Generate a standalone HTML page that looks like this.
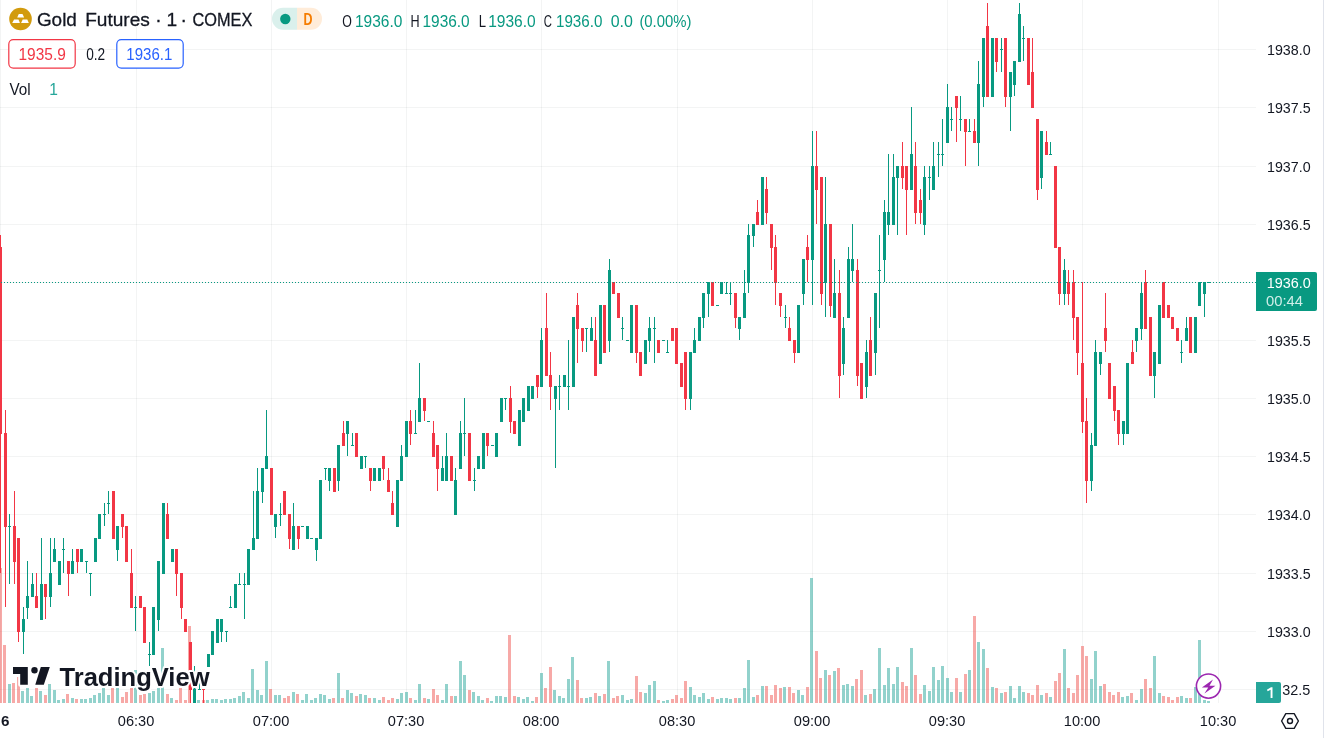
<!DOCTYPE html>
<html><head><meta charset="utf-8"><title>Gold Futures</title>
<style>html,body{margin:0;padding:0;background:#fff;}body{width:1324px;height:738px;overflow:hidden;position:relative;font-family:"Liberation Sans", sans-serif;}</style>
</head><body>
<svg width="1324" height="738" viewBox="0 0 1324 738" style="position:absolute;left:0;top:0;display:block;will-change:transform">
<rect x="0" y="0" width="1324" height="738" fill="#ffffff"/>
<g shape-rendering="crispEdges" fill="#2a2e39" fill-opacity="0.055">
<rect x="0" y="689" width="1256" height="1"/>
<rect x="0" y="631" width="1256" height="1"/>
<rect x="0" y="573" width="1256" height="1"/>
<rect x="0" y="514" width="1256" height="1"/>
<rect x="0" y="456" width="1256" height="1"/>
<rect x="0" y="398" width="1256" height="1"/>
<rect x="0" y="340" width="1256" height="1"/>
<rect x="0" y="282" width="1256" height="1"/>
<rect x="0" y="224" width="1256" height="1"/>
<rect x="0" y="166" width="1256" height="1"/>
<rect x="0" y="107" width="1256" height="1"/>
<rect x="0" y="49" width="1256" height="1"/>
<rect x="0" y="0" width="1" height="703"/>
<rect x="136" y="0" width="1" height="703"/>
<rect x="271" y="0" width="1" height="703"/>
<rect x="406" y="0" width="1" height="703"/>
<rect x="541" y="0" width="1" height="703"/>
<rect x="677" y="0" width="1" height="703"/>
<rect x="812" y="0" width="1" height="703"/>
<rect x="947" y="0" width="1" height="703"/>
<rect x="1082" y="0" width="1" height="703"/>
<rect x="1218" y="0" width="1" height="703"/>
</g>
<g shape-rendering="crispEdges">
<rect x="-1" y="568" width="3" height="135" fill="rgba(239,83,80,0.5)"/>
<rect x="3" y="645" width="3" height="58" fill="rgba(239,83,80,0.5)"/>
<rect x="8" y="684" width="3" height="19" fill="rgba(38,166,154,0.5)"/>
<rect x="12" y="683" width="3" height="20" fill="rgba(239,83,80,0.5)"/>
<rect x="17" y="677" width="3" height="26" fill="rgba(239,83,80,0.5)"/>
<rect x="21" y="691" width="3" height="12" fill="rgba(38,166,154,0.5)"/>
<rect x="26" y="688" width="3" height="15" fill="rgba(38,166,154,0.5)"/>
<rect x="30" y="696" width="3" height="7" fill="rgba(38,166,154,0.5)"/>
<rect x="35" y="688" width="3" height="15" fill="rgba(239,83,80,0.5)"/>
<rect x="39" y="691" width="3" height="12" fill="rgba(38,166,154,0.5)"/>
<rect x="44" y="695" width="3" height="8" fill="rgba(239,83,80,0.5)"/>
<rect x="48" y="684" width="3" height="19" fill="rgba(38,166,154,0.5)"/>
<rect x="53" y="690" width="3" height="13" fill="rgba(38,166,154,0.5)"/>
<rect x="57" y="700" width="3" height="3" fill="rgba(38,166,154,0.5)"/>
<rect x="62" y="699" width="3" height="4" fill="rgba(38,166,154,0.5)"/>
<rect x="66" y="694" width="3" height="9" fill="rgba(239,83,80,0.5)"/>
<rect x="71" y="698" width="3" height="5" fill="rgba(38,166,154,0.5)"/>
<rect x="75" y="699" width="3" height="4" fill="rgba(239,83,80,0.5)"/>
<rect x="80" y="699" width="3" height="4" fill="rgba(38,166,154,0.5)"/>
<rect x="84" y="699" width="3" height="4" fill="rgba(38,166,154,0.5)"/>
<rect x="89" y="698" width="3" height="5" fill="rgba(38,166,154,0.5)"/>
<rect x="93" y="695" width="3" height="8" fill="rgba(38,166,154,0.5)"/>
<rect x="98" y="693" width="3" height="10" fill="rgba(38,166,154,0.5)"/>
<rect x="102" y="688" width="3" height="15" fill="rgba(38,166,154,0.5)"/>
<rect x="107" y="695" width="3" height="8" fill="rgba(38,166,154,0.5)"/>
<rect x="111" y="688" width="3" height="15" fill="rgba(239,83,80,0.5)"/>
<rect x="116" y="688" width="3" height="15" fill="rgba(38,166,154,0.5)"/>
<rect x="121" y="697" width="3" height="6" fill="rgba(239,83,80,0.5)"/>
<rect x="125" y="692" width="3" height="11" fill="rgba(239,83,80,0.5)"/>
<rect x="130" y="688" width="3" height="15" fill="rgba(239,83,80,0.5)"/>
<rect x="134" y="670" width="3" height="33" fill="rgba(38,166,154,0.5)"/>
<rect x="139" y="695" width="3" height="8" fill="rgba(239,83,80,0.5)"/>
<rect x="143" y="694" width="3" height="9" fill="rgba(239,83,80,0.5)"/>
<rect x="148" y="693" width="3" height="10" fill="rgba(38,166,154,0.5)"/>
<rect x="152" y="691" width="3" height="12" fill="rgba(38,166,154,0.5)"/>
<rect x="157" y="688" width="3" height="15" fill="rgba(38,166,154,0.5)"/>
<rect x="161" y="648" width="3" height="55" fill="rgba(38,166,154,0.5)"/>
<rect x="166" y="694" width="3" height="9" fill="rgba(239,83,80,0.5)"/>
<rect x="170" y="698" width="3" height="5" fill="rgba(38,166,154,0.5)"/>
<rect x="175" y="700" width="3" height="3" fill="rgba(239,83,80,0.5)"/>
<rect x="179" y="688" width="3" height="15" fill="rgba(239,83,80,0.5)"/>
<rect x="184" y="700" width="3" height="3" fill="rgba(239,83,80,0.5)"/>
<rect x="188" y="626" width="3" height="77" fill="rgba(239,83,80,0.5)"/>
<rect x="193" y="673" width="3" height="30" fill="rgba(38,166,154,0.5)"/>
<rect x="197" y="700" width="3" height="3" fill="rgba(38,166,154,0.5)"/>
<rect x="202" y="700" width="3" height="3" fill="rgba(239,83,80,0.5)"/>
<rect x="206" y="700" width="3" height="3" fill="rgba(38,166,154,0.5)"/>
<rect x="211" y="699" width="3" height="4" fill="rgba(38,166,154,0.5)"/>
<rect x="215" y="699" width="3" height="4" fill="rgba(38,166,154,0.5)"/>
<rect x="220" y="700" width="3" height="3" fill="rgba(38,166,154,0.5)"/>
<rect x="224" y="699" width="3" height="4" fill="rgba(38,166,154,0.5)"/>
<rect x="229" y="699" width="3" height="4" fill="rgba(38,166,154,0.5)"/>
<rect x="233" y="698" width="3" height="5" fill="rgba(38,166,154,0.5)"/>
<rect x="238" y="696" width="3" height="7" fill="rgba(38,166,154,0.5)"/>
<rect x="242" y="692" width="3" height="11" fill="rgba(38,166,154,0.5)"/>
<rect x="247" y="698" width="3" height="5" fill="rgba(38,166,154,0.5)"/>
<rect x="251" y="669" width="3" height="34" fill="rgba(38,166,154,0.5)"/>
<rect x="256" y="690" width="3" height="13" fill="rgba(38,166,154,0.5)"/>
<rect x="260" y="695" width="3" height="8" fill="rgba(38,166,154,0.5)"/>
<rect x="265" y="661" width="3" height="42" fill="rgba(38,166,154,0.5)"/>
<rect x="269" y="689" width="3" height="14" fill="rgba(239,83,80,0.5)"/>
<rect x="274" y="695" width="3" height="8" fill="rgba(38,166,154,0.5)"/>
<rect x="278" y="695" width="3" height="8" fill="rgba(38,166,154,0.5)"/>
<rect x="283" y="698" width="3" height="5" fill="rgba(239,83,80,0.5)"/>
<rect x="287" y="696" width="3" height="7" fill="rgba(239,83,80,0.5)"/>
<rect x="292" y="692" width="3" height="11" fill="rgba(38,166,154,0.5)"/>
<rect x="296" y="694" width="3" height="9" fill="rgba(239,83,80,0.5)"/>
<rect x="301" y="700" width="3" height="3" fill="rgba(38,166,154,0.5)"/>
<rect x="305" y="694" width="3" height="9" fill="rgba(38,166,154,0.5)"/>
<rect x="310" y="700" width="3" height="3" fill="rgba(38,166,154,0.5)"/>
<rect x="314" y="698" width="3" height="5" fill="rgba(38,166,154,0.5)"/>
<rect x="319" y="694" width="3" height="9" fill="rgba(38,166,154,0.5)"/>
<rect x="323" y="695" width="3" height="8" fill="rgba(38,166,154,0.5)"/>
<rect x="328" y="699" width="3" height="4" fill="rgba(38,166,154,0.5)"/>
<rect x="332" y="698" width="3" height="5" fill="rgba(239,83,80,0.5)"/>
<rect x="337" y="673" width="3" height="30" fill="rgba(38,166,154,0.5)"/>
<rect x="341" y="698" width="3" height="5" fill="rgba(239,83,80,0.5)"/>
<rect x="346" y="690" width="3" height="13" fill="rgba(38,166,154,0.5)"/>
<rect x="350" y="693" width="3" height="10" fill="rgba(38,166,154,0.5)"/>
<rect x="355" y="696" width="3" height="7" fill="rgba(239,83,80,0.5)"/>
<rect x="359" y="694" width="3" height="9" fill="rgba(38,166,154,0.5)"/>
<rect x="364" y="695" width="3" height="8" fill="rgba(38,166,154,0.5)"/>
<rect x="368" y="698" width="3" height="5" fill="rgba(239,83,80,0.5)"/>
<rect x="373" y="698" width="3" height="5" fill="rgba(38,166,154,0.5)"/>
<rect x="378" y="700" width="3" height="3" fill="rgba(38,166,154,0.5)"/>
<rect x="382" y="697" width="3" height="6" fill="rgba(239,83,80,0.5)"/>
<rect x="387" y="700" width="3" height="3" fill="rgba(239,83,80,0.5)"/>
<rect x="391" y="698" width="3" height="5" fill="rgba(239,83,80,0.5)"/>
<rect x="396" y="699" width="3" height="4" fill="rgba(38,166,154,0.5)"/>
<rect x="400" y="693" width="3" height="10" fill="rgba(38,166,154,0.5)"/>
<rect x="405" y="692" width="3" height="11" fill="rgba(38,166,154,0.5)"/>
<rect x="409" y="698" width="3" height="5" fill="rgba(239,83,80,0.5)"/>
<rect x="414" y="700" width="3" height="3" fill="rgba(38,166,154,0.5)"/>
<rect x="418" y="684" width="3" height="19" fill="rgba(38,166,154,0.5)"/>
<rect x="423" y="698" width="3" height="5" fill="rgba(239,83,80,0.5)"/>
<rect x="427" y="699" width="3" height="4" fill="rgba(38,166,154,0.5)"/>
<rect x="432" y="689" width="3" height="14" fill="rgba(239,83,80,0.5)"/>
<rect x="436" y="695" width="3" height="8" fill="rgba(239,83,80,0.5)"/>
<rect x="441" y="700" width="3" height="3" fill="rgba(38,166,154,0.5)"/>
<rect x="445" y="684" width="3" height="19" fill="rgba(38,166,154,0.5)"/>
<rect x="450" y="696" width="3" height="7" fill="rgba(239,83,80,0.5)"/>
<rect x="454" y="696" width="3" height="7" fill="rgba(38,166,154,0.5)"/>
<rect x="459" y="661" width="3" height="42" fill="rgba(38,166,154,0.5)"/>
<rect x="463" y="675" width="3" height="28" fill="rgba(38,166,154,0.5)"/>
<rect x="468" y="690" width="3" height="13" fill="rgba(239,83,80,0.5)"/>
<rect x="472" y="692" width="3" height="11" fill="rgba(38,166,154,0.5)"/>
<rect x="477" y="696" width="3" height="7" fill="rgba(38,166,154,0.5)"/>
<rect x="481" y="700" width="3" height="3" fill="rgba(38,166,154,0.5)"/>
<rect x="486" y="698" width="3" height="5" fill="rgba(239,83,80,0.5)"/>
<rect x="490" y="701" width="3" height="2" fill="rgba(38,166,154,0.5)"/>
<rect x="495" y="696" width="3" height="7" fill="rgba(38,166,154,0.5)"/>
<rect x="499" y="696" width="3" height="7" fill="rgba(38,166,154,0.5)"/>
<rect x="504" y="697" width="3" height="6" fill="rgba(38,166,154,0.5)"/>
<rect x="508" y="635" width="3" height="68" fill="rgba(239,83,80,0.5)"/>
<rect x="513" y="696" width="3" height="7" fill="rgba(239,83,80,0.5)"/>
<rect x="517" y="697" width="3" height="6" fill="rgba(38,166,154,0.5)"/>
<rect x="522" y="699" width="3" height="4" fill="rgba(38,166,154,0.5)"/>
<rect x="526" y="697" width="3" height="6" fill="rgba(38,166,154,0.5)"/>
<rect x="531" y="701" width="3" height="2" fill="rgba(38,166,154,0.5)"/>
<rect x="535" y="697" width="3" height="6" fill="rgba(239,83,80,0.5)"/>
<rect x="540" y="673" width="3" height="30" fill="rgba(38,166,154,0.5)"/>
<rect x="544" y="688" width="3" height="15" fill="rgba(239,83,80,0.5)"/>
<rect x="549" y="667" width="3" height="36" fill="rgba(239,83,80,0.5)"/>
<rect x="553" y="690" width="3" height="13" fill="rgba(38,166,154,0.5)"/>
<rect x="558" y="696" width="3" height="7" fill="rgba(38,166,154,0.5)"/>
<rect x="562" y="698" width="3" height="5" fill="rgba(38,166,154,0.5)"/>
<rect x="567" y="679" width="3" height="24" fill="rgba(38,166,154,0.5)"/>
<rect x="571" y="657" width="3" height="46" fill="rgba(38,166,154,0.5)"/>
<rect x="576" y="680" width="3" height="23" fill="rgba(239,83,80,0.5)"/>
<rect x="580" y="698" width="3" height="5" fill="rgba(239,83,80,0.5)"/>
<rect x="585" y="698" width="3" height="5" fill="rgba(38,166,154,0.5)"/>
<rect x="589" y="697" width="3" height="6" fill="rgba(38,166,154,0.5)"/>
<rect x="594" y="693" width="3" height="10" fill="rgba(239,83,80,0.5)"/>
<rect x="598" y="696" width="3" height="7" fill="rgba(38,166,154,0.5)"/>
<rect x="603" y="694" width="3" height="9" fill="rgba(239,83,80,0.5)"/>
<rect x="607" y="661" width="3" height="42" fill="rgba(38,166,154,0.5)"/>
<rect x="612" y="698" width="3" height="5" fill="rgba(239,83,80,0.5)"/>
<rect x="616" y="696" width="3" height="7" fill="rgba(239,83,80,0.5)"/>
<rect x="621" y="695" width="3" height="8" fill="rgba(38,166,154,0.5)"/>
<rect x="626" y="700" width="3" height="3" fill="rgba(38,166,154,0.5)"/>
<rect x="630" y="699" width="3" height="4" fill="rgba(38,166,154,0.5)"/>
<rect x="635" y="676" width="3" height="27" fill="rgba(239,83,80,0.5)"/>
<rect x="639" y="692" width="3" height="11" fill="rgba(239,83,80,0.5)"/>
<rect x="644" y="693" width="3" height="10" fill="rgba(38,166,154,0.5)"/>
<rect x="648" y="685" width="3" height="18" fill="rgba(38,166,154,0.5)"/>
<rect x="653" y="681" width="3" height="22" fill="rgba(38,166,154,0.5)"/>
<rect x="657" y="700" width="3" height="3" fill="rgba(239,83,80,0.5)"/>
<rect x="662" y="701" width="3" height="2" fill="rgba(38,166,154,0.5)"/>
<rect x="666" y="700" width="3" height="3" fill="rgba(38,166,154,0.5)"/>
<rect x="671" y="699" width="3" height="4" fill="rgba(239,83,80,0.5)"/>
<rect x="675" y="695" width="3" height="8" fill="rgba(239,83,80,0.5)"/>
<rect x="680" y="698" width="3" height="5" fill="rgba(239,83,80,0.5)"/>
<rect x="684" y="681" width="3" height="22" fill="rgba(239,83,80,0.5)"/>
<rect x="689" y="687" width="3" height="16" fill="rgba(38,166,154,0.5)"/>
<rect x="693" y="695" width="3" height="8" fill="rgba(38,166,154,0.5)"/>
<rect x="698" y="697" width="3" height="6" fill="rgba(38,166,154,0.5)"/>
<rect x="702" y="693" width="3" height="10" fill="rgba(38,166,154,0.5)"/>
<rect x="707" y="699" width="3" height="4" fill="rgba(38,166,154,0.5)"/>
<rect x="711" y="697" width="3" height="6" fill="rgba(239,83,80,0.5)"/>
<rect x="716" y="699" width="3" height="4" fill="rgba(38,166,154,0.5)"/>
<rect x="720" y="698" width="3" height="5" fill="rgba(38,166,154,0.5)"/>
<rect x="725" y="698" width="3" height="5" fill="rgba(38,166,154,0.5)"/>
<rect x="729" y="699" width="3" height="4" fill="rgba(38,166,154,0.5)"/>
<rect x="734" y="698" width="3" height="5" fill="rgba(239,83,80,0.5)"/>
<rect x="738" y="698" width="3" height="5" fill="rgba(38,166,154,0.5)"/>
<rect x="743" y="688" width="3" height="15" fill="rgba(38,166,154,0.5)"/>
<rect x="747" y="660" width="3" height="43" fill="rgba(38,166,154,0.5)"/>
<rect x="752" y="697" width="3" height="6" fill="rgba(38,166,154,0.5)"/>
<rect x="756" y="695" width="3" height="8" fill="rgba(239,83,80,0.5)"/>
<rect x="761" y="686" width="3" height="17" fill="rgba(38,166,154,0.5)"/>
<rect x="765" y="686" width="3" height="17" fill="rgba(239,83,80,0.5)"/>
<rect x="770" y="695" width="3" height="8" fill="rgba(239,83,80,0.5)"/>
<rect x="774" y="685" width="3" height="18" fill="rgba(239,83,80,0.5)"/>
<rect x="779" y="688" width="3" height="15" fill="rgba(239,83,80,0.5)"/>
<rect x="783" y="687" width="3" height="16" fill="rgba(38,166,154,0.5)"/>
<rect x="788" y="687" width="3" height="16" fill="rgba(239,83,80,0.5)"/>
<rect x="792" y="693" width="3" height="10" fill="rgba(239,83,80,0.5)"/>
<rect x="797" y="690" width="3" height="13" fill="rgba(38,166,154,0.5)"/>
<rect x="801" y="695" width="3" height="8" fill="rgba(38,166,154,0.5)"/>
<rect x="806" y="687" width="3" height="16" fill="rgba(239,83,80,0.5)"/>
<rect x="810" y="578" width="3" height="125" fill="rgba(38,166,154,0.5)"/>
<rect x="815" y="651" width="3" height="52" fill="rgba(239,83,80,0.5)"/>
<rect x="819" y="678" width="3" height="25" fill="rgba(239,83,80,0.5)"/>
<rect x="824" y="670" width="3" height="33" fill="rgba(38,166,154,0.5)"/>
<rect x="828" y="675" width="3" height="28" fill="rgba(239,83,80,0.5)"/>
<rect x="833" y="671" width="3" height="32" fill="rgba(38,166,154,0.5)"/>
<rect x="837" y="668" width="3" height="35" fill="rgba(239,83,80,0.5)"/>
<rect x="842" y="685" width="3" height="18" fill="rgba(38,166,154,0.5)"/>
<rect x="846" y="684" width="3" height="19" fill="rgba(38,166,154,0.5)"/>
<rect x="851" y="686" width="3" height="17" fill="rgba(38,166,154,0.5)"/>
<rect x="855" y="679" width="3" height="24" fill="rgba(239,83,80,0.5)"/>
<rect x="860" y="670" width="3" height="33" fill="rgba(239,83,80,0.5)"/>
<rect x="864" y="695" width="3" height="8" fill="rgba(38,166,154,0.5)"/>
<rect x="869" y="694" width="3" height="9" fill="rgba(239,83,80,0.5)"/>
<rect x="873" y="689" width="3" height="14" fill="rgba(38,166,154,0.5)"/>
<rect x="878" y="648" width="3" height="55" fill="rgba(38,166,154,0.5)"/>
<rect x="883" y="685" width="3" height="18" fill="rgba(38,166,154,0.5)"/>
<rect x="887" y="668" width="3" height="35" fill="rgba(38,166,154,0.5)"/>
<rect x="892" y="684" width="3" height="19" fill="rgba(38,166,154,0.5)"/>
<rect x="896" y="667" width="3" height="36" fill="rgba(38,166,154,0.5)"/>
<rect x="901" y="682" width="3" height="21" fill="rgba(239,83,80,0.5)"/>
<rect x="905" y="686" width="3" height="17" fill="rgba(239,83,80,0.5)"/>
<rect x="910" y="648" width="3" height="55" fill="rgba(38,166,154,0.5)"/>
<rect x="914" y="675" width="3" height="28" fill="rgba(239,83,80,0.5)"/>
<rect x="919" y="694" width="3" height="9" fill="rgba(239,83,80,0.5)"/>
<rect x="923" y="685" width="3" height="18" fill="rgba(38,166,154,0.5)"/>
<rect x="928" y="691" width="3" height="12" fill="rgba(38,166,154,0.5)"/>
<rect x="932" y="667" width="3" height="36" fill="rgba(38,166,154,0.5)"/>
<rect x="937" y="680" width="3" height="23" fill="rgba(38,166,154,0.5)"/>
<rect x="941" y="666" width="3" height="37" fill="rgba(38,166,154,0.5)"/>
<rect x="946" y="678" width="3" height="25" fill="rgba(38,166,154,0.5)"/>
<rect x="950" y="692" width="3" height="11" fill="rgba(38,166,154,0.5)"/>
<rect x="955" y="678" width="3" height="25" fill="rgba(239,83,80,0.5)"/>
<rect x="959" y="692" width="3" height="11" fill="rgba(38,166,154,0.5)"/>
<rect x="964" y="674" width="3" height="29" fill="rgba(239,83,80,0.5)"/>
<rect x="968" y="670" width="3" height="33" fill="rgba(38,166,154,0.5)"/>
<rect x="973" y="616" width="3" height="87" fill="rgba(239,83,80,0.5)"/>
<rect x="977" y="642" width="3" height="61" fill="rgba(38,166,154,0.5)"/>
<rect x="982" y="649" width="3" height="54" fill="rgba(38,166,154,0.5)"/>
<rect x="986" y="668" width="3" height="35" fill="rgba(239,83,80,0.5)"/>
<rect x="991" y="687" width="3" height="16" fill="rgba(38,166,154,0.5)"/>
<rect x="995" y="688" width="3" height="15" fill="rgba(239,83,80,0.5)"/>
<rect x="1000" y="693" width="3" height="10" fill="rgba(38,166,154,0.5)"/>
<rect x="1004" y="692" width="3" height="11" fill="rgba(239,83,80,0.5)"/>
<rect x="1009" y="686" width="3" height="17" fill="rgba(38,166,154,0.5)"/>
<rect x="1013" y="698" width="3" height="5" fill="rgba(38,166,154,0.5)"/>
<rect x="1018" y="686" width="3" height="17" fill="rgba(38,166,154,0.5)"/>
<rect x="1022" y="692" width="3" height="11" fill="rgba(38,166,154,0.5)"/>
<rect x="1027" y="693" width="3" height="10" fill="rgba(239,83,80,0.5)"/>
<rect x="1031" y="695" width="3" height="8" fill="rgba(239,83,80,0.5)"/>
<rect x="1036" y="685" width="3" height="18" fill="rgba(239,83,80,0.5)"/>
<rect x="1040" y="695" width="3" height="8" fill="rgba(38,166,154,0.5)"/>
<rect x="1045" y="693" width="3" height="10" fill="rgba(239,83,80,0.5)"/>
<rect x="1049" y="697" width="3" height="6" fill="rgba(38,166,154,0.5)"/>
<rect x="1054" y="681" width="3" height="22" fill="rgba(239,83,80,0.5)"/>
<rect x="1058" y="673" width="3" height="30" fill="rgba(239,83,80,0.5)"/>
<rect x="1063" y="649" width="3" height="54" fill="rgba(38,166,154,0.5)"/>
<rect x="1067" y="688" width="3" height="15" fill="rgba(239,83,80,0.5)"/>
<rect x="1072" y="693" width="3" height="10" fill="rgba(239,83,80,0.5)"/>
<rect x="1076" y="675" width="3" height="28" fill="rgba(239,83,80,0.5)"/>
<rect x="1081" y="646" width="3" height="57" fill="rgba(239,83,80,0.5)"/>
<rect x="1085" y="656" width="3" height="47" fill="rgba(239,83,80,0.5)"/>
<rect x="1090" y="679" width="3" height="24" fill="rgba(38,166,154,0.5)"/>
<rect x="1094" y="651" width="3" height="52" fill="rgba(38,166,154,0.5)"/>
<rect x="1099" y="686" width="3" height="17" fill="rgba(38,166,154,0.5)"/>
<rect x="1103" y="684" width="3" height="19" fill="rgba(239,83,80,0.5)"/>
<rect x="1108" y="692" width="3" height="11" fill="rgba(239,83,80,0.5)"/>
<rect x="1112" y="695" width="3" height="8" fill="rgba(239,83,80,0.5)"/>
<rect x="1117" y="692" width="3" height="11" fill="rgba(239,83,80,0.5)"/>
<rect x="1121" y="697" width="3" height="6" fill="rgba(38,166,154,0.5)"/>
<rect x="1126" y="696" width="3" height="7" fill="rgba(38,166,154,0.5)"/>
<rect x="1130" y="693" width="3" height="10" fill="rgba(239,83,80,0.5)"/>
<rect x="1135" y="700" width="3" height="3" fill="rgba(38,166,154,0.5)"/>
<rect x="1140" y="689" width="3" height="14" fill="rgba(38,166,154,0.5)"/>
<rect x="1144" y="679" width="3" height="24" fill="rgba(239,83,80,0.5)"/>
<rect x="1149" y="688" width="3" height="15" fill="rgba(239,83,80,0.5)"/>
<rect x="1153" y="656" width="3" height="47" fill="rgba(38,166,154,0.5)"/>
<rect x="1158" y="693" width="3" height="10" fill="rgba(38,166,154,0.5)"/>
<rect x="1162" y="696" width="3" height="7" fill="rgba(239,83,80,0.5)"/>
<rect x="1167" y="697" width="3" height="6" fill="rgba(239,83,80,0.5)"/>
<rect x="1171" y="700" width="3" height="3" fill="rgba(239,83,80,0.5)"/>
<rect x="1176" y="697" width="3" height="6" fill="rgba(239,83,80,0.5)"/>
<rect x="1180" y="696" width="3" height="7" fill="rgba(38,166,154,0.5)"/>
<rect x="1185" y="698" width="3" height="5" fill="rgba(38,166,154,0.5)"/>
<rect x="1189" y="698" width="3" height="5" fill="rgba(239,83,80,0.5)"/>
<rect x="1194" y="687" width="3" height="16" fill="rgba(38,166,154,0.5)"/>
<rect x="1198" y="640" width="3" height="63" fill="rgba(38,166,154,0.5)"/>
<rect x="1203" y="700" width="3" height="3" fill="rgba(38,166,154,0.5)"/>
<rect x="1207" y="701" width="3" height="2" fill="rgba(38,166,154,0.5)"/>
</g>
<clipPath id="pc"><rect x="0" y="0" width="1256" height="703"/></clipPath>
<g shape-rendering="crispEdges" clip-path="url(#pc)">
<rect x="0" y="235" width="1" height="338" fill="#f23645"/>
<rect x="-1" y="247" width="3" height="187" fill="#f23645"/>
<rect x="5" y="410" width="1" height="197" fill="#f23645"/>
<rect x="4" y="433" width="3" height="94" fill="#f23645"/>
<rect x="9" y="514" width="1" height="70" fill="#089981"/>
<rect x="8" y="526" width="3" height="1" fill="#089981"/>
<rect x="14" y="491" width="1" height="93" fill="#f23645"/>
<rect x="13" y="526" width="3" height="36" fill="#f23645"/>
<rect x="18" y="538" width="1" height="104" fill="#f23645"/>
<rect x="17" y="538" width="3" height="94" fill="#f23645"/>
<rect x="23" y="607" width="1" height="47" fill="#089981"/>
<rect x="22" y="619" width="3" height="13" fill="#089981"/>
<rect x="27" y="561" width="1" height="58" fill="#089981"/>
<rect x="26" y="596" width="3" height="12" fill="#089981"/>
<rect x="32" y="573" width="1" height="24" fill="#089981"/>
<rect x="31" y="584" width="3" height="13" fill="#089981"/>
<rect x="36" y="573" width="1" height="35" fill="#f23645"/>
<rect x="35" y="596" width="3" height="12" fill="#f23645"/>
<rect x="41" y="538" width="1" height="82" fill="#089981"/>
<rect x="40" y="584" width="3" height="36" fill="#089981"/>
<rect x="45" y="584" width="1" height="35" fill="#f23645"/>
<rect x="44" y="584" width="3" height="13" fill="#f23645"/>
<rect x="50" y="538" width="1" height="69" fill="#089981"/>
<rect x="49" y="573" width="3" height="24" fill="#089981"/>
<rect x="54" y="538" width="1" height="24" fill="#089981"/>
<rect x="53" y="549" width="3" height="13" fill="#089981"/>
<rect x="59" y="561" width="1" height="24" fill="#089981"/>
<rect x="58" y="561" width="3" height="24" fill="#089981"/>
<rect x="63" y="538" width="1" height="35" fill="#089981"/>
<rect x="62" y="549" width="3" height="1" fill="#089981"/>
<rect x="68" y="561" width="1" height="35" fill="#f23645"/>
<rect x="67" y="561" width="3" height="13" fill="#f23645"/>
<rect x="72" y="549" width="1" height="25" fill="#089981"/>
<rect x="71" y="561" width="3" height="13" fill="#089981"/>
<rect x="77" y="549" width="1" height="24" fill="#f23645"/>
<rect x="76" y="549" width="3" height="13" fill="#f23645"/>
<rect x="81" y="549" width="1" height="13" fill="#089981"/>
<rect x="80" y="549" width="3" height="13" fill="#089981"/>
<rect x="86" y="561" width="1" height="12" fill="#089981"/>
<rect x="85" y="561" width="3" height="1" fill="#089981"/>
<rect x="90" y="573" width="1" height="23" fill="#089981"/>
<rect x="89" y="573" width="3" height="1" fill="#089981"/>
<rect x="95" y="538" width="1" height="24" fill="#089981"/>
<rect x="94" y="538" width="3" height="24" fill="#089981"/>
<rect x="99" y="514" width="1" height="25" fill="#089981"/>
<rect x="98" y="514" width="3" height="25" fill="#089981"/>
<rect x="104" y="503" width="1" height="23" fill="#089981"/>
<rect x="103" y="514" width="3" height="1" fill="#089981"/>
<rect x="108" y="491" width="1" height="23" fill="#089981"/>
<rect x="107" y="503" width="3" height="1" fill="#089981"/>
<rect x="113" y="491" width="1" height="48" fill="#f23645"/>
<rect x="112" y="491" width="3" height="48" fill="#f23645"/>
<rect x="117" y="526" width="1" height="35" fill="#089981"/>
<rect x="116" y="526" width="3" height="24" fill="#089981"/>
<rect x="122" y="514" width="1" height="24" fill="#f23645"/>
<rect x="121" y="514" width="3" height="13" fill="#f23645"/>
<rect x="126" y="526" width="1" height="36" fill="#f23645"/>
<rect x="125" y="526" width="3" height="36" fill="#f23645"/>
<rect x="131" y="549" width="1" height="59" fill="#f23645"/>
<rect x="130" y="573" width="3" height="35" fill="#f23645"/>
<rect x="135" y="596" width="1" height="35" fill="#089981"/>
<rect x="134" y="607" width="3" height="1" fill="#089981"/>
<rect x="140" y="596" width="1" height="12" fill="#f23645"/>
<rect x="139" y="596" width="3" height="12" fill="#f23645"/>
<rect x="144" y="607" width="1" height="36" fill="#f23645"/>
<rect x="143" y="607" width="3" height="36" fill="#f23645"/>
<rect x="149" y="642" width="1" height="24" fill="#089981"/>
<rect x="148" y="654" width="3" height="1" fill="#089981"/>
<rect x="153" y="607" width="1" height="48" fill="#089981"/>
<rect x="152" y="607" width="3" height="48" fill="#089981"/>
<rect x="158" y="561" width="1" height="70" fill="#089981"/>
<rect x="157" y="561" width="3" height="59" fill="#089981"/>
<rect x="163" y="503" width="1" height="71" fill="#089981"/>
<rect x="162" y="503" width="3" height="71" fill="#089981"/>
<rect x="167" y="503" width="1" height="36" fill="#f23645"/>
<rect x="166" y="514" width="3" height="25" fill="#f23645"/>
<rect x="172" y="549" width="1" height="13" fill="#089981"/>
<rect x="171" y="549" width="3" height="13" fill="#089981"/>
<rect x="176" y="549" width="1" height="47" fill="#f23645"/>
<rect x="175" y="549" width="3" height="25" fill="#f23645"/>
<rect x="181" y="573" width="1" height="46" fill="#f23645"/>
<rect x="180" y="573" width="3" height="35" fill="#f23645"/>
<rect x="185" y="619" width="1" height="13" fill="#f23645"/>
<rect x="184" y="619" width="3" height="13" fill="#f23645"/>
<rect x="190" y="642" width="1" height="82" fill="#f23645"/>
<rect x="189" y="642" width="3" height="48" fill="#f23645"/>
<rect x="194" y="666" width="1" height="59" fill="#089981"/>
<rect x="193" y="689" width="3" height="36" fill="#089981"/>
<rect x="199" y="677" width="1" height="13" fill="#089981"/>
<rect x="198" y="689" width="3" height="1" fill="#089981"/>
<rect x="203" y="689" width="1" height="35" fill="#f23645"/>
<rect x="202" y="689" width="3" height="1" fill="#f23645"/>
<rect x="208" y="654" width="1" height="13" fill="#089981"/>
<rect x="207" y="654" width="3" height="13" fill="#089981"/>
<rect x="212" y="631" width="1" height="24" fill="#089981"/>
<rect x="211" y="631" width="3" height="24" fill="#089981"/>
<rect x="217" y="619" width="1" height="24" fill="#089981"/>
<rect x="216" y="619" width="3" height="24" fill="#089981"/>
<rect x="221" y="619" width="1" height="23" fill="#089981"/>
<rect x="220" y="619" width="3" height="13" fill="#089981"/>
<rect x="226" y="631" width="1" height="11" fill="#089981"/>
<rect x="225" y="631" width="3" height="1" fill="#089981"/>
<rect x="230" y="596" width="1" height="12" fill="#089981"/>
<rect x="229" y="607" width="3" height="1" fill="#089981"/>
<rect x="235" y="584" width="1" height="24" fill="#089981"/>
<rect x="234" y="584" width="3" height="24" fill="#089981"/>
<rect x="239" y="573" width="1" height="12" fill="#089981"/>
<rect x="238" y="584" width="3" height="1" fill="#089981"/>
<rect x="244" y="573" width="1" height="46" fill="#089981"/>
<rect x="243" y="584" width="3" height="1" fill="#089981"/>
<rect x="248" y="549" width="1" height="36" fill="#089981"/>
<rect x="247" y="549" width="3" height="36" fill="#089981"/>
<rect x="253" y="491" width="1" height="59" fill="#089981"/>
<rect x="252" y="538" width="3" height="12" fill="#089981"/>
<rect x="257" y="468" width="1" height="71" fill="#089981"/>
<rect x="256" y="491" width="3" height="48" fill="#089981"/>
<rect x="262" y="468" width="1" height="35" fill="#089981"/>
<rect x="261" y="468" width="3" height="24" fill="#089981"/>
<rect x="266" y="410" width="1" height="59" fill="#089981"/>
<rect x="265" y="456" width="3" height="13" fill="#089981"/>
<rect x="271" y="468" width="1" height="47" fill="#f23645"/>
<rect x="270" y="468" width="3" height="47" fill="#f23645"/>
<rect x="275" y="514" width="1" height="24" fill="#089981"/>
<rect x="274" y="514" width="3" height="13" fill="#089981"/>
<rect x="280" y="503" width="1" height="23" fill="#089981"/>
<rect x="279" y="514" width="3" height="1" fill="#089981"/>
<rect x="284" y="491" width="1" height="24" fill="#f23645"/>
<rect x="283" y="491" width="3" height="24" fill="#f23645"/>
<rect x="289" y="514" width="1" height="35" fill="#f23645"/>
<rect x="288" y="514" width="3" height="25" fill="#f23645"/>
<rect x="293" y="503" width="1" height="47" fill="#089981"/>
<rect x="292" y="526" width="3" height="24" fill="#089981"/>
<rect x="298" y="526" width="1" height="23" fill="#f23645"/>
<rect x="297" y="526" width="3" height="13" fill="#f23645"/>
<rect x="302" y="526" width="1" height="1" fill="#089981"/>
<rect x="301" y="526" width="3" height="1" fill="#089981"/>
<rect x="307" y="526" width="1" height="13" fill="#089981"/>
<rect x="306" y="526" width="3" height="13" fill="#089981"/>
<rect x="311" y="538" width="1" height="1" fill="#089981"/>
<rect x="310" y="538" width="3" height="1" fill="#089981"/>
<rect x="316" y="538" width="1" height="23" fill="#089981"/>
<rect x="315" y="538" width="3" height="12" fill="#089981"/>
<rect x="320" y="480" width="1" height="59" fill="#089981"/>
<rect x="319" y="480" width="3" height="59" fill="#089981"/>
<rect x="325" y="468" width="1" height="12" fill="#089981"/>
<rect x="324" y="468" width="3" height="1" fill="#089981"/>
<rect x="329" y="468" width="1" height="23" fill="#089981"/>
<rect x="328" y="468" width="3" height="13" fill="#089981"/>
<rect x="334" y="468" width="1" height="24" fill="#f23645"/>
<rect x="333" y="468" width="3" height="24" fill="#f23645"/>
<rect x="338" y="445" width="1" height="46" fill="#089981"/>
<rect x="337" y="445" width="3" height="36" fill="#089981"/>
<rect x="343" y="421" width="1" height="25" fill="#f23645"/>
<rect x="342" y="433" width="3" height="13" fill="#f23645"/>
<rect x="347" y="421" width="1" height="35" fill="#089981"/>
<rect x="346" y="421" width="3" height="13" fill="#089981"/>
<rect x="352" y="433" width="1" height="13" fill="#089981"/>
<rect x="351" y="445" width="3" height="1" fill="#089981"/>
<rect x="356" y="433" width="1" height="24" fill="#f23645"/>
<rect x="355" y="433" width="3" height="24" fill="#f23645"/>
<rect x="361" y="456" width="1" height="13" fill="#089981"/>
<rect x="360" y="456" width="3" height="13" fill="#089981"/>
<rect x="365" y="456" width="1" height="12" fill="#089981"/>
<rect x="364" y="456" width="3" height="1" fill="#089981"/>
<rect x="370" y="468" width="1" height="23" fill="#f23645"/>
<rect x="369" y="468" width="3" height="13" fill="#f23645"/>
<rect x="374" y="468" width="1" height="13" fill="#089981"/>
<rect x="373" y="468" width="3" height="13" fill="#089981"/>
<rect x="379" y="468" width="1" height="13" fill="#089981"/>
<rect x="378" y="468" width="3" height="13" fill="#089981"/>
<rect x="383" y="456" width="1" height="24" fill="#f23645"/>
<rect x="382" y="456" width="3" height="13" fill="#f23645"/>
<rect x="388" y="468" width="1" height="24" fill="#f23645"/>
<rect x="387" y="480" width="3" height="12" fill="#f23645"/>
<rect x="392" y="491" width="1" height="24" fill="#f23645"/>
<rect x="391" y="503" width="3" height="12" fill="#f23645"/>
<rect x="397" y="480" width="1" height="47" fill="#089981"/>
<rect x="396" y="480" width="3" height="47" fill="#089981"/>
<rect x="401" y="445" width="1" height="36" fill="#089981"/>
<rect x="400" y="456" width="3" height="25" fill="#089981"/>
<rect x="406" y="421" width="1" height="36" fill="#089981"/>
<rect x="405" y="421" width="3" height="36" fill="#089981"/>
<rect x="410" y="410" width="1" height="35" fill="#f23645"/>
<rect x="409" y="421" width="3" height="13" fill="#f23645"/>
<rect x="415" y="410" width="1" height="24" fill="#089981"/>
<rect x="414" y="433" width="3" height="1" fill="#089981"/>
<rect x="419" y="363" width="1" height="59" fill="#089981"/>
<rect x="418" y="398" width="3" height="24" fill="#089981"/>
<rect x="424" y="398" width="1" height="23" fill="#f23645"/>
<rect x="423" y="398" width="3" height="13" fill="#f23645"/>
<rect x="428" y="421" width="1" height="1" fill="#089981"/>
<rect x="427" y="421" width="3" height="1" fill="#089981"/>
<rect x="433" y="421" width="1" height="36" fill="#f23645"/>
<rect x="432" y="433" width="3" height="24" fill="#f23645"/>
<rect x="437" y="445" width="1" height="46" fill="#f23645"/>
<rect x="436" y="445" width="3" height="24" fill="#f23645"/>
<rect x="442" y="456" width="1" height="25" fill="#089981"/>
<rect x="441" y="468" width="3" height="13" fill="#089981"/>
<rect x="446" y="433" width="1" height="48" fill="#089981"/>
<rect x="445" y="456" width="3" height="25" fill="#089981"/>
<rect x="451" y="456" width="1" height="25" fill="#f23645"/>
<rect x="450" y="456" width="3" height="25" fill="#f23645"/>
<rect x="455" y="468" width="1" height="47" fill="#089981"/>
<rect x="454" y="480" width="3" height="35" fill="#089981"/>
<rect x="460" y="421" width="1" height="48" fill="#089981"/>
<rect x="459" y="433" width="3" height="36" fill="#089981"/>
<rect x="464" y="398" width="1" height="58" fill="#089981"/>
<rect x="463" y="433" width="3" height="1" fill="#089981"/>
<rect x="469" y="433" width="1" height="48" fill="#f23645"/>
<rect x="468" y="433" width="3" height="48" fill="#f23645"/>
<rect x="474" y="468" width="1" height="23" fill="#089981"/>
<rect x="473" y="480" width="3" height="1" fill="#089981"/>
<rect x="478" y="456" width="1" height="13" fill="#089981"/>
<rect x="477" y="456" width="3" height="13" fill="#089981"/>
<rect x="483" y="433" width="1" height="36" fill="#089981"/>
<rect x="482" y="433" width="3" height="36" fill="#089981"/>
<rect x="487" y="433" width="1" height="23" fill="#f23645"/>
<rect x="486" y="433" width="3" height="13" fill="#f23645"/>
<rect x="492" y="445" width="1" height="1" fill="#089981"/>
<rect x="491" y="445" width="3" height="1" fill="#089981"/>
<rect x="496" y="433" width="1" height="24" fill="#089981"/>
<rect x="495" y="433" width="3" height="24" fill="#089981"/>
<rect x="501" y="398" width="1" height="24" fill="#089981"/>
<rect x="500" y="398" width="3" height="24" fill="#089981"/>
<rect x="505" y="398" width="1" height="12" fill="#089981"/>
<rect x="504" y="398" width="3" height="1" fill="#089981"/>
<rect x="510" y="386" width="1" height="47" fill="#f23645"/>
<rect x="509" y="398" width="3" height="24" fill="#f23645"/>
<rect x="514" y="421" width="1" height="13" fill="#f23645"/>
<rect x="513" y="421" width="3" height="13" fill="#f23645"/>
<rect x="519" y="410" width="1" height="36" fill="#089981"/>
<rect x="518" y="410" width="3" height="36" fill="#089981"/>
<rect x="523" y="398" width="1" height="24" fill="#089981"/>
<rect x="522" y="398" width="3" height="24" fill="#089981"/>
<rect x="528" y="386" width="1" height="25" fill="#089981"/>
<rect x="527" y="386" width="3" height="25" fill="#089981"/>
<rect x="532" y="386" width="1" height="13" fill="#089981"/>
<rect x="531" y="386" width="3" height="13" fill="#089981"/>
<rect x="537" y="375" width="1" height="23" fill="#f23645"/>
<rect x="536" y="375" width="3" height="12" fill="#f23645"/>
<rect x="541" y="328" width="1" height="59" fill="#089981"/>
<rect x="540" y="340" width="3" height="47" fill="#089981"/>
<rect x="546" y="293" width="1" height="83" fill="#f23645"/>
<rect x="545" y="328" width="3" height="48" fill="#f23645"/>
<rect x="550" y="352" width="1" height="58" fill="#f23645"/>
<rect x="549" y="375" width="3" height="12" fill="#f23645"/>
<rect x="555" y="386" width="1" height="82" fill="#089981"/>
<rect x="554" y="386" width="3" height="13" fill="#089981"/>
<rect x="559" y="375" width="1" height="35" fill="#089981"/>
<rect x="558" y="386" width="3" height="1" fill="#089981"/>
<rect x="564" y="375" width="1" height="12" fill="#089981"/>
<rect x="563" y="375" width="3" height="12" fill="#089981"/>
<rect x="568" y="340" width="1" height="70" fill="#089981"/>
<rect x="567" y="386" width="3" height="1" fill="#089981"/>
<rect x="573" y="317" width="1" height="70" fill="#089981"/>
<rect x="572" y="317" width="3" height="70" fill="#089981"/>
<rect x="577" y="293" width="1" height="70" fill="#f23645"/>
<rect x="576" y="305" width="3" height="24" fill="#f23645"/>
<rect x="582" y="328" width="1" height="24" fill="#f23645"/>
<rect x="581" y="328" width="3" height="13" fill="#f23645"/>
<rect x="586" y="328" width="1" height="24" fill="#089981"/>
<rect x="585" y="328" width="3" height="1" fill="#089981"/>
<rect x="591" y="317" width="1" height="24" fill="#089981"/>
<rect x="590" y="328" width="3" height="13" fill="#089981"/>
<rect x="595" y="317" width="1" height="59" fill="#f23645"/>
<rect x="594" y="340" width="3" height="36" fill="#f23645"/>
<rect x="600" y="305" width="1" height="59" fill="#089981"/>
<rect x="599" y="305" width="3" height="59" fill="#089981"/>
<rect x="604" y="305" width="1" height="48" fill="#f23645"/>
<rect x="603" y="305" width="3" height="48" fill="#f23645"/>
<rect x="609" y="259" width="1" height="93" fill="#089981"/>
<rect x="608" y="270" width="3" height="71" fill="#089981"/>
<rect x="613" y="282" width="1" height="12" fill="#f23645"/>
<rect x="612" y="282" width="3" height="12" fill="#f23645"/>
<rect x="618" y="293" width="1" height="25" fill="#f23645"/>
<rect x="617" y="293" width="3" height="25" fill="#f23645"/>
<rect x="622" y="317" width="1" height="23" fill="#089981"/>
<rect x="621" y="328" width="3" height="1" fill="#089981"/>
<rect x="627" y="340" width="1" height="1" fill="#089981"/>
<rect x="626" y="340" width="3" height="1" fill="#089981"/>
<rect x="631" y="305" width="1" height="48" fill="#089981"/>
<rect x="630" y="305" width="3" height="48" fill="#089981"/>
<rect x="636" y="305" width="1" height="58" fill="#f23645"/>
<rect x="635" y="305" width="3" height="48" fill="#f23645"/>
<rect x="640" y="352" width="1" height="24" fill="#f23645"/>
<rect x="639" y="352" width="3" height="24" fill="#f23645"/>
<rect x="645" y="340" width="1" height="24" fill="#089981"/>
<rect x="644" y="340" width="3" height="24" fill="#089981"/>
<rect x="649" y="317" width="1" height="35" fill="#089981"/>
<rect x="648" y="328" width="3" height="13" fill="#089981"/>
<rect x="654" y="317" width="1" height="46" fill="#089981"/>
<rect x="653" y="328" width="3" height="1" fill="#089981"/>
<rect x="658" y="340" width="1" height="13" fill="#f23645"/>
<rect x="657" y="340" width="3" height="13" fill="#f23645"/>
<rect x="663" y="340" width="1" height="1" fill="#089981"/>
<rect x="662" y="340" width="3" height="1" fill="#089981"/>
<rect x="667" y="340" width="1" height="13" fill="#089981"/>
<rect x="666" y="352" width="3" height="1" fill="#089981"/>
<rect x="672" y="328" width="1" height="13" fill="#f23645"/>
<rect x="671" y="328" width="3" height="13" fill="#f23645"/>
<rect x="676" y="328" width="1" height="36" fill="#f23645"/>
<rect x="675" y="328" width="3" height="36" fill="#f23645"/>
<rect x="681" y="363" width="1" height="24" fill="#f23645"/>
<rect x="680" y="363" width="3" height="24" fill="#f23645"/>
<rect x="685" y="352" width="1" height="58" fill="#f23645"/>
<rect x="684" y="352" width="3" height="47" fill="#f23645"/>
<rect x="690" y="352" width="1" height="58" fill="#089981"/>
<rect x="689" y="352" width="3" height="47" fill="#089981"/>
<rect x="694" y="328" width="1" height="25" fill="#089981"/>
<rect x="693" y="340" width="3" height="13" fill="#089981"/>
<rect x="699" y="317" width="1" height="24" fill="#089981"/>
<rect x="698" y="317" width="3" height="24" fill="#089981"/>
<rect x="703" y="293" width="1" height="35" fill="#089981"/>
<rect x="702" y="293" width="3" height="25" fill="#089981"/>
<rect x="708" y="282" width="1" height="35" fill="#089981"/>
<rect x="707" y="282" width="3" height="12" fill="#089981"/>
<rect x="712" y="282" width="1" height="24" fill="#f23645"/>
<rect x="711" y="282" width="3" height="24" fill="#f23645"/>
<rect x="717" y="305" width="1" height="1" fill="#089981"/>
<rect x="716" y="305" width="3" height="1" fill="#089981"/>
<rect x="721" y="282" width="1" height="12" fill="#089981"/>
<rect x="720" y="282" width="3" height="12" fill="#089981"/>
<rect x="726" y="282" width="1" height="12" fill="#089981"/>
<rect x="725" y="293" width="3" height="1" fill="#089981"/>
<rect x="730" y="282" width="1" height="23" fill="#089981"/>
<rect x="729" y="293" width="3" height="1" fill="#089981"/>
<rect x="735" y="293" width="1" height="35" fill="#f23645"/>
<rect x="734" y="293" width="3" height="25" fill="#f23645"/>
<rect x="739" y="317" width="1" height="23" fill="#089981"/>
<rect x="738" y="317" width="3" height="12" fill="#089981"/>
<rect x="744" y="270" width="1" height="48" fill="#089981"/>
<rect x="743" y="293" width="3" height="25" fill="#089981"/>
<rect x="748" y="224" width="1" height="69" fill="#089981"/>
<rect x="747" y="235" width="3" height="48" fill="#089981"/>
<rect x="753" y="224" width="1" height="23" fill="#089981"/>
<rect x="752" y="224" width="3" height="12" fill="#089981"/>
<rect x="757" y="200" width="1" height="25" fill="#f23645"/>
<rect x="756" y="212" width="3" height="13" fill="#f23645"/>
<rect x="762" y="177" width="1" height="48" fill="#089981"/>
<rect x="761" y="177" width="3" height="48" fill="#089981"/>
<rect x="766" y="177" width="1" height="47" fill="#f23645"/>
<rect x="765" y="189" width="3" height="24" fill="#f23645"/>
<rect x="771" y="224" width="1" height="46" fill="#f23645"/>
<rect x="770" y="224" width="3" height="24" fill="#f23645"/>
<rect x="775" y="235" width="1" height="70" fill="#f23645"/>
<rect x="774" y="247" width="3" height="36" fill="#f23645"/>
<rect x="780" y="293" width="1" height="24" fill="#f23645"/>
<rect x="779" y="293" width="3" height="13" fill="#f23645"/>
<rect x="785" y="305" width="1" height="23" fill="#089981"/>
<rect x="784" y="317" width="3" height="1" fill="#089981"/>
<rect x="789" y="317" width="1" height="24" fill="#f23645"/>
<rect x="788" y="328" width="3" height="13" fill="#f23645"/>
<rect x="794" y="340" width="1" height="23" fill="#f23645"/>
<rect x="793" y="340" width="3" height="13" fill="#f23645"/>
<rect x="798" y="305" width="1" height="48" fill="#089981"/>
<rect x="797" y="305" width="3" height="48" fill="#089981"/>
<rect x="803" y="259" width="1" height="46" fill="#089981"/>
<rect x="802" y="259" width="3" height="35" fill="#089981"/>
<rect x="807" y="235" width="1" height="47" fill="#f23645"/>
<rect x="806" y="247" width="3" height="13" fill="#f23645"/>
<rect x="812" y="131" width="1" height="174" fill="#089981"/>
<rect x="811" y="166" width="3" height="94" fill="#089981"/>
<rect x="816" y="131" width="1" height="93" fill="#f23645"/>
<rect x="815" y="166" width="3" height="24" fill="#f23645"/>
<rect x="821" y="177" width="1" height="128" fill="#f23645"/>
<rect x="820" y="177" width="3" height="117" fill="#f23645"/>
<rect x="825" y="177" width="1" height="140" fill="#089981"/>
<rect x="824" y="224" width="3" height="59" fill="#089981"/>
<rect x="830" y="224" width="1" height="93" fill="#f23645"/>
<rect x="829" y="224" width="3" height="82" fill="#f23645"/>
<rect x="834" y="259" width="1" height="59" fill="#089981"/>
<rect x="833" y="293" width="3" height="25" fill="#089981"/>
<rect x="839" y="270" width="1" height="128" fill="#f23645"/>
<rect x="838" y="293" width="3" height="83" fill="#f23645"/>
<rect x="843" y="317" width="1" height="58" fill="#089981"/>
<rect x="842" y="328" width="3" height="36" fill="#089981"/>
<rect x="848" y="247" width="1" height="71" fill="#089981"/>
<rect x="847" y="259" width="3" height="59" fill="#089981"/>
<rect x="852" y="224" width="1" height="58" fill="#089981"/>
<rect x="851" y="259" width="3" height="12" fill="#089981"/>
<rect x="857" y="259" width="1" height="127" fill="#f23645"/>
<rect x="856" y="270" width="3" height="106" fill="#f23645"/>
<rect x="861" y="363" width="1" height="36" fill="#f23645"/>
<rect x="860" y="363" width="3" height="36" fill="#f23645"/>
<rect x="866" y="340" width="1" height="58" fill="#089981"/>
<rect x="865" y="352" width="3" height="35" fill="#089981"/>
<rect x="870" y="317" width="1" height="59" fill="#f23645"/>
<rect x="869" y="340" width="3" height="36" fill="#f23645"/>
<rect x="875" y="293" width="1" height="82" fill="#089981"/>
<rect x="874" y="293" width="3" height="60" fill="#089981"/>
<rect x="879" y="235" width="1" height="93" fill="#089981"/>
<rect x="878" y="270" width="3" height="1" fill="#089981"/>
<rect x="884" y="200" width="1" height="82" fill="#089981"/>
<rect x="883" y="212" width="3" height="48" fill="#089981"/>
<rect x="888" y="154" width="1" height="81" fill="#089981"/>
<rect x="887" y="212" width="3" height="13" fill="#089981"/>
<rect x="893" y="154" width="1" height="71" fill="#089981"/>
<rect x="892" y="177" width="3" height="48" fill="#089981"/>
<rect x="897" y="166" width="1" height="69" fill="#089981"/>
<rect x="896" y="166" width="3" height="12" fill="#089981"/>
<rect x="902" y="142" width="1" height="47" fill="#f23645"/>
<rect x="901" y="166" width="3" height="12" fill="#f23645"/>
<rect x="906" y="166" width="1" height="69" fill="#f23645"/>
<rect x="905" y="166" width="3" height="24" fill="#f23645"/>
<rect x="911" y="107" width="1" height="83" fill="#089981"/>
<rect x="910" y="154" width="3" height="36" fill="#089981"/>
<rect x="915" y="142" width="1" height="82" fill="#f23645"/>
<rect x="914" y="166" width="3" height="47" fill="#f23645"/>
<rect x="920" y="189" width="1" height="35" fill="#f23645"/>
<rect x="919" y="200" width="3" height="13" fill="#f23645"/>
<rect x="924" y="166" width="1" height="69" fill="#089981"/>
<rect x="923" y="177" width="3" height="48" fill="#089981"/>
<rect x="929" y="166" width="1" height="34" fill="#089981"/>
<rect x="928" y="177" width="3" height="1" fill="#089981"/>
<rect x="933" y="142" width="1" height="48" fill="#089981"/>
<rect x="932" y="166" width="3" height="24" fill="#089981"/>
<rect x="938" y="142" width="1" height="35" fill="#089981"/>
<rect x="937" y="154" width="3" height="1" fill="#089981"/>
<rect x="942" y="119" width="1" height="47" fill="#089981"/>
<rect x="941" y="154" width="3" height="1" fill="#089981"/>
<rect x="947" y="84" width="1" height="59" fill="#089981"/>
<rect x="946" y="107" width="3" height="36" fill="#089981"/>
<rect x="951" y="107" width="1" height="24" fill="#089981"/>
<rect x="950" y="119" width="3" height="1" fill="#089981"/>
<rect x="956" y="96" width="1" height="46" fill="#f23645"/>
<rect x="955" y="96" width="3" height="12" fill="#f23645"/>
<rect x="960" y="96" width="1" height="35" fill="#089981"/>
<rect x="959" y="119" width="3" height="1" fill="#089981"/>
<rect x="965" y="119" width="1" height="47" fill="#f23645"/>
<rect x="964" y="119" width="3" height="13" fill="#f23645"/>
<rect x="969" y="119" width="1" height="13" fill="#089981"/>
<rect x="968" y="131" width="3" height="1" fill="#089981"/>
<rect x="974" y="119" width="1" height="24" fill="#f23645"/>
<rect x="973" y="131" width="3" height="12" fill="#f23645"/>
<rect x="978" y="61" width="1" height="105" fill="#089981"/>
<rect x="977" y="84" width="3" height="59" fill="#089981"/>
<rect x="983" y="38" width="1" height="69" fill="#089981"/>
<rect x="982" y="38" width="3" height="59" fill="#089981"/>
<rect x="987" y="3" width="1" height="94" fill="#f23645"/>
<rect x="986" y="26" width="3" height="71" fill="#f23645"/>
<rect x="992" y="38" width="1" height="59" fill="#089981"/>
<rect x="991" y="38" width="3" height="59" fill="#089981"/>
<rect x="996" y="38" width="1" height="34" fill="#f23645"/>
<rect x="995" y="38" width="3" height="24" fill="#f23645"/>
<rect x="1001" y="38" width="1" height="34" fill="#089981"/>
<rect x="1000" y="49" width="3" height="1" fill="#089981"/>
<rect x="1005" y="38" width="1" height="69" fill="#f23645"/>
<rect x="1004" y="38" width="3" height="59" fill="#f23645"/>
<rect x="1010" y="72" width="1" height="59" fill="#089981"/>
<rect x="1009" y="72" width="3" height="25" fill="#089981"/>
<rect x="1014" y="61" width="1" height="35" fill="#089981"/>
<rect x="1013" y="61" width="3" height="24" fill="#089981"/>
<rect x="1019" y="3" width="1" height="59" fill="#089981"/>
<rect x="1018" y="14" width="3" height="48" fill="#089981"/>
<rect x="1023" y="26" width="1" height="35" fill="#089981"/>
<rect x="1022" y="38" width="3" height="1" fill="#089981"/>
<rect x="1028" y="38" width="1" height="47" fill="#f23645"/>
<rect x="1027" y="38" width="3" height="47" fill="#f23645"/>
<rect x="1032" y="38" width="1" height="70" fill="#f23645"/>
<rect x="1031" y="72" width="3" height="36" fill="#f23645"/>
<rect x="1037" y="119" width="1" height="81" fill="#f23645"/>
<rect x="1036" y="119" width="3" height="71" fill="#f23645"/>
<rect x="1041" y="131" width="1" height="58" fill="#089981"/>
<rect x="1040" y="131" width="3" height="47" fill="#089981"/>
<rect x="1046" y="131" width="1" height="24" fill="#f23645"/>
<rect x="1045" y="142" width="3" height="13" fill="#f23645"/>
<rect x="1050" y="142" width="1" height="13" fill="#089981"/>
<rect x="1049" y="154" width="3" height="1" fill="#089981"/>
<rect x="1055" y="166" width="1" height="82" fill="#f23645"/>
<rect x="1054" y="166" width="3" height="82" fill="#f23645"/>
<rect x="1059" y="247" width="1" height="58" fill="#f23645"/>
<rect x="1058" y="247" width="3" height="47" fill="#f23645"/>
<rect x="1064" y="259" width="1" height="46" fill="#089981"/>
<rect x="1063" y="270" width="3" height="24" fill="#089981"/>
<rect x="1068" y="270" width="1" height="35" fill="#f23645"/>
<rect x="1067" y="282" width="3" height="12" fill="#f23645"/>
<rect x="1073" y="270" width="1" height="70" fill="#f23645"/>
<rect x="1072" y="282" width="3" height="36" fill="#f23645"/>
<rect x="1077" y="317" width="1" height="58" fill="#f23645"/>
<rect x="1076" y="317" width="3" height="36" fill="#f23645"/>
<rect x="1082" y="282" width="1" height="151" fill="#f23645"/>
<rect x="1081" y="363" width="3" height="59" fill="#f23645"/>
<rect x="1086" y="398" width="1" height="105" fill="#f23645"/>
<rect x="1085" y="421" width="3" height="60" fill="#f23645"/>
<rect x="1091" y="433" width="1" height="58" fill="#089981"/>
<rect x="1090" y="445" width="3" height="36" fill="#089981"/>
<rect x="1095" y="340" width="1" height="106" fill="#089981"/>
<rect x="1094" y="352" width="3" height="94" fill="#089981"/>
<rect x="1100" y="352" width="1" height="23" fill="#089981"/>
<rect x="1099" y="352" width="3" height="12" fill="#089981"/>
<rect x="1105" y="293" width="1" height="59" fill="#f23645"/>
<rect x="1104" y="328" width="3" height="13" fill="#f23645"/>
<rect x="1109" y="363" width="1" height="36" fill="#f23645"/>
<rect x="1108" y="363" width="3" height="36" fill="#f23645"/>
<rect x="1114" y="386" width="1" height="35" fill="#f23645"/>
<rect x="1113" y="386" width="3" height="25" fill="#f23645"/>
<rect x="1118" y="410" width="1" height="35" fill="#f23645"/>
<rect x="1117" y="410" width="3" height="24" fill="#f23645"/>
<rect x="1123" y="421" width="1" height="24" fill="#089981"/>
<rect x="1122" y="421" width="3" height="13" fill="#089981"/>
<rect x="1127" y="363" width="1" height="71" fill="#089981"/>
<rect x="1126" y="363" width="3" height="71" fill="#089981"/>
<rect x="1132" y="340" width="1" height="24" fill="#f23645"/>
<rect x="1131" y="352" width="3" height="12" fill="#f23645"/>
<rect x="1136" y="328" width="1" height="24" fill="#089981"/>
<rect x="1135" y="328" width="3" height="13" fill="#089981"/>
<rect x="1141" y="282" width="1" height="58" fill="#089981"/>
<rect x="1140" y="293" width="3" height="36" fill="#089981"/>
<rect x="1145" y="270" width="1" height="59" fill="#f23645"/>
<rect x="1144" y="282" width="3" height="47" fill="#f23645"/>
<rect x="1150" y="317" width="1" height="59" fill="#f23645"/>
<rect x="1149" y="317" width="3" height="59" fill="#f23645"/>
<rect x="1154" y="352" width="1" height="46" fill="#089981"/>
<rect x="1153" y="352" width="3" height="24" fill="#089981"/>
<rect x="1159" y="305" width="1" height="59" fill="#089981"/>
<rect x="1158" y="305" width="3" height="59" fill="#089981"/>
<rect x="1163" y="282" width="1" height="36" fill="#f23645"/>
<rect x="1162" y="282" width="3" height="36" fill="#f23645"/>
<rect x="1168" y="305" width="1" height="13" fill="#f23645"/>
<rect x="1167" y="305" width="3" height="13" fill="#f23645"/>
<rect x="1172" y="317" width="1" height="12" fill="#f23645"/>
<rect x="1171" y="317" width="3" height="12" fill="#f23645"/>
<rect x="1177" y="328" width="1" height="13" fill="#f23645"/>
<rect x="1176" y="328" width="3" height="13" fill="#f23645"/>
<rect x="1181" y="340" width="1" height="23" fill="#089981"/>
<rect x="1180" y="352" width="3" height="1" fill="#089981"/>
<rect x="1186" y="317" width="1" height="24" fill="#089981"/>
<rect x="1185" y="328" width="3" height="13" fill="#089981"/>
<rect x="1190" y="317" width="1" height="36" fill="#f23645"/>
<rect x="1189" y="317" width="3" height="36" fill="#f23645"/>
<rect x="1195" y="317" width="1" height="36" fill="#089981"/>
<rect x="1194" y="317" width="3" height="36" fill="#089981"/>
<rect x="1199" y="282" width="1" height="24" fill="#089981"/>
<rect x="1198" y="282" width="3" height="24" fill="#089981"/>
<rect x="1204" y="282" width="1" height="35" fill="#089981"/>
<rect x="1203" y="282" width="3" height="12" fill="#089981"/>
<rect x="1208" y="282" width="1" height="1" fill="#089981"/>
<rect x="1207" y="282" width="3" height="1" fill="#089981"/>
</g>
<g shape-rendering="crispEdges" fill="#089981">
<rect x="1" y="282" width="1" height="1"/>
<rect x="4" y="282" width="1" height="1"/>
<rect x="7" y="282" width="1" height="1"/>
<rect x="10" y="282" width="1" height="1"/>
<rect x="13" y="282" width="1" height="1"/>
<rect x="16" y="282" width="1" height="1"/>
<rect x="19" y="282" width="1" height="1"/>
<rect x="22" y="282" width="1" height="1"/>
<rect x="25" y="282" width="1" height="1"/>
<rect x="28" y="282" width="1" height="1"/>
<rect x="31" y="282" width="1" height="1"/>
<rect x="34" y="282" width="1" height="1"/>
<rect x="37" y="282" width="1" height="1"/>
<rect x="40" y="282" width="1" height="1"/>
<rect x="43" y="282" width="1" height="1"/>
<rect x="46" y="282" width="1" height="1"/>
<rect x="49" y="282" width="1" height="1"/>
<rect x="52" y="282" width="1" height="1"/>
<rect x="55" y="282" width="1" height="1"/>
<rect x="58" y="282" width="1" height="1"/>
<rect x="61" y="282" width="1" height="1"/>
<rect x="64" y="282" width="1" height="1"/>
<rect x="67" y="282" width="1" height="1"/>
<rect x="70" y="282" width="1" height="1"/>
<rect x="73" y="282" width="1" height="1"/>
<rect x="76" y="282" width="1" height="1"/>
<rect x="79" y="282" width="1" height="1"/>
<rect x="82" y="282" width="1" height="1"/>
<rect x="85" y="282" width="1" height="1"/>
<rect x="88" y="282" width="1" height="1"/>
<rect x="91" y="282" width="1" height="1"/>
<rect x="94" y="282" width="1" height="1"/>
<rect x="97" y="282" width="1" height="1"/>
<rect x="100" y="282" width="1" height="1"/>
<rect x="103" y="282" width="1" height="1"/>
<rect x="106" y="282" width="1" height="1"/>
<rect x="109" y="282" width="1" height="1"/>
<rect x="112" y="282" width="1" height="1"/>
<rect x="115" y="282" width="1" height="1"/>
<rect x="118" y="282" width="1" height="1"/>
<rect x="121" y="282" width="1" height="1"/>
<rect x="124" y="282" width="1" height="1"/>
<rect x="127" y="282" width="1" height="1"/>
<rect x="130" y="282" width="1" height="1"/>
<rect x="133" y="282" width="1" height="1"/>
<rect x="136" y="282" width="1" height="1"/>
<rect x="139" y="282" width="1" height="1"/>
<rect x="142" y="282" width="1" height="1"/>
<rect x="145" y="282" width="1" height="1"/>
<rect x="148" y="282" width="1" height="1"/>
<rect x="151" y="282" width="1" height="1"/>
<rect x="154" y="282" width="1" height="1"/>
<rect x="157" y="282" width="1" height="1"/>
<rect x="160" y="282" width="1" height="1"/>
<rect x="163" y="282" width="1" height="1"/>
<rect x="166" y="282" width="1" height="1"/>
<rect x="169" y="282" width="1" height="1"/>
<rect x="172" y="282" width="1" height="1"/>
<rect x="175" y="282" width="1" height="1"/>
<rect x="178" y="282" width="1" height="1"/>
<rect x="181" y="282" width="1" height="1"/>
<rect x="184" y="282" width="1" height="1"/>
<rect x="187" y="282" width="1" height="1"/>
<rect x="190" y="282" width="1" height="1"/>
<rect x="193" y="282" width="1" height="1"/>
<rect x="196" y="282" width="1" height="1"/>
<rect x="199" y="282" width="1" height="1"/>
<rect x="202" y="282" width="1" height="1"/>
<rect x="205" y="282" width="1" height="1"/>
<rect x="208" y="282" width="1" height="1"/>
<rect x="211" y="282" width="1" height="1"/>
<rect x="214" y="282" width="1" height="1"/>
<rect x="217" y="282" width="1" height="1"/>
<rect x="220" y="282" width="1" height="1"/>
<rect x="223" y="282" width="1" height="1"/>
<rect x="226" y="282" width="1" height="1"/>
<rect x="229" y="282" width="1" height="1"/>
<rect x="232" y="282" width="1" height="1"/>
<rect x="235" y="282" width="1" height="1"/>
<rect x="238" y="282" width="1" height="1"/>
<rect x="241" y="282" width="1" height="1"/>
<rect x="244" y="282" width="1" height="1"/>
<rect x="247" y="282" width="1" height="1"/>
<rect x="250" y="282" width="1" height="1"/>
<rect x="253" y="282" width="1" height="1"/>
<rect x="256" y="282" width="1" height="1"/>
<rect x="259" y="282" width="1" height="1"/>
<rect x="262" y="282" width="1" height="1"/>
<rect x="265" y="282" width="1" height="1"/>
<rect x="268" y="282" width="1" height="1"/>
<rect x="271" y="282" width="1" height="1"/>
<rect x="274" y="282" width="1" height="1"/>
<rect x="277" y="282" width="1" height="1"/>
<rect x="280" y="282" width="1" height="1"/>
<rect x="283" y="282" width="1" height="1"/>
<rect x="286" y="282" width="1" height="1"/>
<rect x="289" y="282" width="1" height="1"/>
<rect x="292" y="282" width="1" height="1"/>
<rect x="295" y="282" width="1" height="1"/>
<rect x="298" y="282" width="1" height="1"/>
<rect x="301" y="282" width="1" height="1"/>
<rect x="304" y="282" width="1" height="1"/>
<rect x="307" y="282" width="1" height="1"/>
<rect x="310" y="282" width="1" height="1"/>
<rect x="313" y="282" width="1" height="1"/>
<rect x="316" y="282" width="1" height="1"/>
<rect x="319" y="282" width="1" height="1"/>
<rect x="322" y="282" width="1" height="1"/>
<rect x="325" y="282" width="1" height="1"/>
<rect x="328" y="282" width="1" height="1"/>
<rect x="331" y="282" width="1" height="1"/>
<rect x="334" y="282" width="1" height="1"/>
<rect x="337" y="282" width="1" height="1"/>
<rect x="340" y="282" width="1" height="1"/>
<rect x="343" y="282" width="1" height="1"/>
<rect x="346" y="282" width="1" height="1"/>
<rect x="349" y="282" width="1" height="1"/>
<rect x="352" y="282" width="1" height="1"/>
<rect x="355" y="282" width="1" height="1"/>
<rect x="358" y="282" width="1" height="1"/>
<rect x="361" y="282" width="1" height="1"/>
<rect x="364" y="282" width="1" height="1"/>
<rect x="367" y="282" width="1" height="1"/>
<rect x="370" y="282" width="1" height="1"/>
<rect x="373" y="282" width="1" height="1"/>
<rect x="376" y="282" width="1" height="1"/>
<rect x="379" y="282" width="1" height="1"/>
<rect x="382" y="282" width="1" height="1"/>
<rect x="385" y="282" width="1" height="1"/>
<rect x="388" y="282" width="1" height="1"/>
<rect x="391" y="282" width="1" height="1"/>
<rect x="394" y="282" width="1" height="1"/>
<rect x="397" y="282" width="1" height="1"/>
<rect x="400" y="282" width="1" height="1"/>
<rect x="403" y="282" width="1" height="1"/>
<rect x="406" y="282" width="1" height="1"/>
<rect x="409" y="282" width="1" height="1"/>
<rect x="412" y="282" width="1" height="1"/>
<rect x="415" y="282" width="1" height="1"/>
<rect x="418" y="282" width="1" height="1"/>
<rect x="421" y="282" width="1" height="1"/>
<rect x="424" y="282" width="1" height="1"/>
<rect x="427" y="282" width="1" height="1"/>
<rect x="430" y="282" width="1" height="1"/>
<rect x="433" y="282" width="1" height="1"/>
<rect x="436" y="282" width="1" height="1"/>
<rect x="439" y="282" width="1" height="1"/>
<rect x="442" y="282" width="1" height="1"/>
<rect x="445" y="282" width="1" height="1"/>
<rect x="448" y="282" width="1" height="1"/>
<rect x="451" y="282" width="1" height="1"/>
<rect x="454" y="282" width="1" height="1"/>
<rect x="457" y="282" width="1" height="1"/>
<rect x="460" y="282" width="1" height="1"/>
<rect x="463" y="282" width="1" height="1"/>
<rect x="466" y="282" width="1" height="1"/>
<rect x="469" y="282" width="1" height="1"/>
<rect x="472" y="282" width="1" height="1"/>
<rect x="475" y="282" width="1" height="1"/>
<rect x="478" y="282" width="1" height="1"/>
<rect x="481" y="282" width="1" height="1"/>
<rect x="484" y="282" width="1" height="1"/>
<rect x="487" y="282" width="1" height="1"/>
<rect x="490" y="282" width="1" height="1"/>
<rect x="493" y="282" width="1" height="1"/>
<rect x="496" y="282" width="1" height="1"/>
<rect x="499" y="282" width="1" height="1"/>
<rect x="502" y="282" width="1" height="1"/>
<rect x="505" y="282" width="1" height="1"/>
<rect x="508" y="282" width="1" height="1"/>
<rect x="511" y="282" width="1" height="1"/>
<rect x="514" y="282" width="1" height="1"/>
<rect x="517" y="282" width="1" height="1"/>
<rect x="520" y="282" width="1" height="1"/>
<rect x="523" y="282" width="1" height="1"/>
<rect x="526" y="282" width="1" height="1"/>
<rect x="529" y="282" width="1" height="1"/>
<rect x="532" y="282" width="1" height="1"/>
<rect x="535" y="282" width="1" height="1"/>
<rect x="538" y="282" width="1" height="1"/>
<rect x="541" y="282" width="1" height="1"/>
<rect x="544" y="282" width="1" height="1"/>
<rect x="547" y="282" width="1" height="1"/>
<rect x="550" y="282" width="1" height="1"/>
<rect x="553" y="282" width="1" height="1"/>
<rect x="556" y="282" width="1" height="1"/>
<rect x="559" y="282" width="1" height="1"/>
<rect x="562" y="282" width="1" height="1"/>
<rect x="565" y="282" width="1" height="1"/>
<rect x="568" y="282" width="1" height="1"/>
<rect x="571" y="282" width="1" height="1"/>
<rect x="574" y="282" width="1" height="1"/>
<rect x="577" y="282" width="1" height="1"/>
<rect x="580" y="282" width="1" height="1"/>
<rect x="583" y="282" width="1" height="1"/>
<rect x="586" y="282" width="1" height="1"/>
<rect x="589" y="282" width="1" height="1"/>
<rect x="592" y="282" width="1" height="1"/>
<rect x="595" y="282" width="1" height="1"/>
<rect x="598" y="282" width="1" height="1"/>
<rect x="601" y="282" width="1" height="1"/>
<rect x="604" y="282" width="1" height="1"/>
<rect x="607" y="282" width="1" height="1"/>
<rect x="610" y="282" width="1" height="1"/>
<rect x="613" y="282" width="1" height="1"/>
<rect x="616" y="282" width="1" height="1"/>
<rect x="619" y="282" width="1" height="1"/>
<rect x="622" y="282" width="1" height="1"/>
<rect x="625" y="282" width="1" height="1"/>
<rect x="628" y="282" width="1" height="1"/>
<rect x="631" y="282" width="1" height="1"/>
<rect x="634" y="282" width="1" height="1"/>
<rect x="637" y="282" width="1" height="1"/>
<rect x="640" y="282" width="1" height="1"/>
<rect x="643" y="282" width="1" height="1"/>
<rect x="646" y="282" width="1" height="1"/>
<rect x="649" y="282" width="1" height="1"/>
<rect x="652" y="282" width="1" height="1"/>
<rect x="655" y="282" width="1" height="1"/>
<rect x="658" y="282" width="1" height="1"/>
<rect x="661" y="282" width="1" height="1"/>
<rect x="664" y="282" width="1" height="1"/>
<rect x="667" y="282" width="1" height="1"/>
<rect x="670" y="282" width="1" height="1"/>
<rect x="673" y="282" width="1" height="1"/>
<rect x="676" y="282" width="1" height="1"/>
<rect x="679" y="282" width="1" height="1"/>
<rect x="682" y="282" width="1" height="1"/>
<rect x="685" y="282" width="1" height="1"/>
<rect x="688" y="282" width="1" height="1"/>
<rect x="691" y="282" width="1" height="1"/>
<rect x="694" y="282" width="1" height="1"/>
<rect x="697" y="282" width="1" height="1"/>
<rect x="700" y="282" width="1" height="1"/>
<rect x="703" y="282" width="1" height="1"/>
<rect x="706" y="282" width="1" height="1"/>
<rect x="709" y="282" width="1" height="1"/>
<rect x="712" y="282" width="1" height="1"/>
<rect x="715" y="282" width="1" height="1"/>
<rect x="718" y="282" width="1" height="1"/>
<rect x="721" y="282" width="1" height="1"/>
<rect x="724" y="282" width="1" height="1"/>
<rect x="727" y="282" width="1" height="1"/>
<rect x="730" y="282" width="1" height="1"/>
<rect x="733" y="282" width="1" height="1"/>
<rect x="736" y="282" width="1" height="1"/>
<rect x="739" y="282" width="1" height="1"/>
<rect x="742" y="282" width="1" height="1"/>
<rect x="745" y="282" width="1" height="1"/>
<rect x="748" y="282" width="1" height="1"/>
<rect x="751" y="282" width="1" height="1"/>
<rect x="754" y="282" width="1" height="1"/>
<rect x="757" y="282" width="1" height="1"/>
<rect x="760" y="282" width="1" height="1"/>
<rect x="763" y="282" width="1" height="1"/>
<rect x="766" y="282" width="1" height="1"/>
<rect x="769" y="282" width="1" height="1"/>
<rect x="772" y="282" width="1" height="1"/>
<rect x="775" y="282" width="1" height="1"/>
<rect x="778" y="282" width="1" height="1"/>
<rect x="781" y="282" width="1" height="1"/>
<rect x="784" y="282" width="1" height="1"/>
<rect x="787" y="282" width="1" height="1"/>
<rect x="790" y="282" width="1" height="1"/>
<rect x="793" y="282" width="1" height="1"/>
<rect x="796" y="282" width="1" height="1"/>
<rect x="799" y="282" width="1" height="1"/>
<rect x="802" y="282" width="1" height="1"/>
<rect x="805" y="282" width="1" height="1"/>
<rect x="808" y="282" width="1" height="1"/>
<rect x="811" y="282" width="1" height="1"/>
<rect x="814" y="282" width="1" height="1"/>
<rect x="817" y="282" width="1" height="1"/>
<rect x="820" y="282" width="1" height="1"/>
<rect x="823" y="282" width="1" height="1"/>
<rect x="826" y="282" width="1" height="1"/>
<rect x="829" y="282" width="1" height="1"/>
<rect x="832" y="282" width="1" height="1"/>
<rect x="835" y="282" width="1" height="1"/>
<rect x="838" y="282" width="1" height="1"/>
<rect x="841" y="282" width="1" height="1"/>
<rect x="844" y="282" width="1" height="1"/>
<rect x="847" y="282" width="1" height="1"/>
<rect x="850" y="282" width="1" height="1"/>
<rect x="853" y="282" width="1" height="1"/>
<rect x="856" y="282" width="1" height="1"/>
<rect x="859" y="282" width="1" height="1"/>
<rect x="862" y="282" width="1" height="1"/>
<rect x="865" y="282" width="1" height="1"/>
<rect x="868" y="282" width="1" height="1"/>
<rect x="871" y="282" width="1" height="1"/>
<rect x="874" y="282" width="1" height="1"/>
<rect x="877" y="282" width="1" height="1"/>
<rect x="880" y="282" width="1" height="1"/>
<rect x="883" y="282" width="1" height="1"/>
<rect x="886" y="282" width="1" height="1"/>
<rect x="889" y="282" width="1" height="1"/>
<rect x="892" y="282" width="1" height="1"/>
<rect x="895" y="282" width="1" height="1"/>
<rect x="898" y="282" width="1" height="1"/>
<rect x="901" y="282" width="1" height="1"/>
<rect x="904" y="282" width="1" height="1"/>
<rect x="907" y="282" width="1" height="1"/>
<rect x="910" y="282" width="1" height="1"/>
<rect x="913" y="282" width="1" height="1"/>
<rect x="916" y="282" width="1" height="1"/>
<rect x="919" y="282" width="1" height="1"/>
<rect x="922" y="282" width="1" height="1"/>
<rect x="925" y="282" width="1" height="1"/>
<rect x="928" y="282" width="1" height="1"/>
<rect x="931" y="282" width="1" height="1"/>
<rect x="934" y="282" width="1" height="1"/>
<rect x="937" y="282" width="1" height="1"/>
<rect x="940" y="282" width="1" height="1"/>
<rect x="943" y="282" width="1" height="1"/>
<rect x="946" y="282" width="1" height="1"/>
<rect x="949" y="282" width="1" height="1"/>
<rect x="952" y="282" width="1" height="1"/>
<rect x="955" y="282" width="1" height="1"/>
<rect x="958" y="282" width="1" height="1"/>
<rect x="961" y="282" width="1" height="1"/>
<rect x="964" y="282" width="1" height="1"/>
<rect x="967" y="282" width="1" height="1"/>
<rect x="970" y="282" width="1" height="1"/>
<rect x="973" y="282" width="1" height="1"/>
<rect x="976" y="282" width="1" height="1"/>
<rect x="979" y="282" width="1" height="1"/>
<rect x="982" y="282" width="1" height="1"/>
<rect x="985" y="282" width="1" height="1"/>
<rect x="988" y="282" width="1" height="1"/>
<rect x="991" y="282" width="1" height="1"/>
<rect x="994" y="282" width="1" height="1"/>
<rect x="997" y="282" width="1" height="1"/>
<rect x="1000" y="282" width="1" height="1"/>
<rect x="1003" y="282" width="1" height="1"/>
<rect x="1006" y="282" width="1" height="1"/>
<rect x="1009" y="282" width="1" height="1"/>
<rect x="1012" y="282" width="1" height="1"/>
<rect x="1015" y="282" width="1" height="1"/>
<rect x="1018" y="282" width="1" height="1"/>
<rect x="1021" y="282" width="1" height="1"/>
<rect x="1024" y="282" width="1" height="1"/>
<rect x="1027" y="282" width="1" height="1"/>
<rect x="1030" y="282" width="1" height="1"/>
<rect x="1033" y="282" width="1" height="1"/>
<rect x="1036" y="282" width="1" height="1"/>
<rect x="1039" y="282" width="1" height="1"/>
<rect x="1042" y="282" width="1" height="1"/>
<rect x="1045" y="282" width="1" height="1"/>
<rect x="1048" y="282" width="1" height="1"/>
<rect x="1051" y="282" width="1" height="1"/>
<rect x="1054" y="282" width="1" height="1"/>
<rect x="1057" y="282" width="1" height="1"/>
<rect x="1060" y="282" width="1" height="1"/>
<rect x="1063" y="282" width="1" height="1"/>
<rect x="1066" y="282" width="1" height="1"/>
<rect x="1069" y="282" width="1" height="1"/>
<rect x="1072" y="282" width="1" height="1"/>
<rect x="1075" y="282" width="1" height="1"/>
<rect x="1078" y="282" width="1" height="1"/>
<rect x="1081" y="282" width="1" height="1"/>
<rect x="1084" y="282" width="1" height="1"/>
<rect x="1087" y="282" width="1" height="1"/>
<rect x="1090" y="282" width="1" height="1"/>
<rect x="1093" y="282" width="1" height="1"/>
<rect x="1096" y="282" width="1" height="1"/>
<rect x="1099" y="282" width="1" height="1"/>
<rect x="1102" y="282" width="1" height="1"/>
<rect x="1105" y="282" width="1" height="1"/>
<rect x="1108" y="282" width="1" height="1"/>
<rect x="1111" y="282" width="1" height="1"/>
<rect x="1114" y="282" width="1" height="1"/>
<rect x="1117" y="282" width="1" height="1"/>
<rect x="1120" y="282" width="1" height="1"/>
<rect x="1123" y="282" width="1" height="1"/>
<rect x="1126" y="282" width="1" height="1"/>
<rect x="1129" y="282" width="1" height="1"/>
<rect x="1132" y="282" width="1" height="1"/>
<rect x="1135" y="282" width="1" height="1"/>
<rect x="1138" y="282" width="1" height="1"/>
<rect x="1141" y="282" width="1" height="1"/>
<rect x="1144" y="282" width="1" height="1"/>
<rect x="1147" y="282" width="1" height="1"/>
<rect x="1150" y="282" width="1" height="1"/>
<rect x="1153" y="282" width="1" height="1"/>
<rect x="1156" y="282" width="1" height="1"/>
<rect x="1159" y="282" width="1" height="1"/>
<rect x="1162" y="282" width="1" height="1"/>
<rect x="1165" y="282" width="1" height="1"/>
<rect x="1168" y="282" width="1" height="1"/>
<rect x="1171" y="282" width="1" height="1"/>
<rect x="1174" y="282" width="1" height="1"/>
<rect x="1177" y="282" width="1" height="1"/>
<rect x="1180" y="282" width="1" height="1"/>
<rect x="1183" y="282" width="1" height="1"/>
<rect x="1186" y="282" width="1" height="1"/>
<rect x="1189" y="282" width="1" height="1"/>
<rect x="1192" y="282" width="1" height="1"/>
<rect x="1195" y="282" width="1" height="1"/>
<rect x="1198" y="282" width="1" height="1"/>
<rect x="1201" y="282" width="1" height="1"/>
<rect x="1204" y="282" width="1" height="1"/>
<rect x="1207" y="282" width="1" height="1"/>
<rect x="1210" y="282" width="1" height="1"/>
<rect x="1213" y="282" width="1" height="1"/>
<rect x="1216" y="282" width="1" height="1"/>
<rect x="1219" y="282" width="1" height="1"/>
<rect x="1222" y="282" width="1" height="1"/>
<rect x="1225" y="282" width="1" height="1"/>
<rect x="1228" y="282" width="1" height="1"/>
<rect x="1231" y="282" width="1" height="1"/>
<rect x="1234" y="282" width="1" height="1"/>
<rect x="1237" y="282" width="1" height="1"/>
<rect x="1240" y="282" width="1" height="1"/>
<rect x="1243" y="282" width="1" height="1"/>
<rect x="1246" y="282" width="1" height="1"/>
<rect x="1249" y="282" width="1" height="1"/>
<rect x="1252" y="282" width="1" height="1"/>
<rect x="1255" y="282" width="1" height="1"/>
</g>
<g font-family='"Liberation Sans", sans-serif' font-size="15.2" fill="#131722">
<text x="1282.2" y="695.0" textLength="28.1" lengthAdjust="spacingAndGlyphs">32.5</text>
<text x="1267" y="637.0" textLength="43.6" lengthAdjust="spacingAndGlyphs">1933.0</text>
<text x="1267" y="579.0" textLength="43.6" lengthAdjust="spacingAndGlyphs">1933.5</text>
<text x="1267" y="520.0" textLength="43.6" lengthAdjust="spacingAndGlyphs">1934.0</text>
<text x="1267" y="461.9" textLength="43.6" lengthAdjust="spacingAndGlyphs">1934.5</text>
<text x="1267" y="403.9" textLength="43.6" lengthAdjust="spacingAndGlyphs">1935.0</text>
<text x="1267" y="345.9" textLength="43.6" lengthAdjust="spacingAndGlyphs">1935.5</text>
<text x="1267" y="287.9" textLength="43.6" lengthAdjust="spacingAndGlyphs">1936.0</text>
<text x="1267" y="229.9" textLength="43.6" lengthAdjust="spacingAndGlyphs">1936.5</text>
<text x="1267" y="171.9" textLength="43.6" lengthAdjust="spacingAndGlyphs">1937.0</text>
<text x="1267" y="113.0" textLength="43.6" lengthAdjust="spacingAndGlyphs">1937.5</text>
<text x="1267" y="55.0" textLength="43.6" lengthAdjust="spacingAndGlyphs">1938.0</text>
<text x="117.8" y="725.85" textLength="36.5" lengthAdjust="spacingAndGlyphs">06:30</text>
<text x="252.8" y="725.85" textLength="36.5" lengthAdjust="spacingAndGlyphs">07:00</text>
<text x="387.8" y="725.85" textLength="36.5" lengthAdjust="spacingAndGlyphs">07:30</text>
<text x="522.8" y="725.85" textLength="36.5" lengthAdjust="spacingAndGlyphs">08:00</text>
<text x="658.8" y="725.85" textLength="36.5" lengthAdjust="spacingAndGlyphs">08:30</text>
<text x="793.8" y="725.85" textLength="36.5" lengthAdjust="spacingAndGlyphs">09:00</text>
<text x="928.8" y="725.85" textLength="36.5" lengthAdjust="spacingAndGlyphs">09:30</text>
<text x="1063.8" y="725.85" textLength="36.5" lengthAdjust="spacingAndGlyphs">10:00</text>
<text x="1199.8" y="725.85" textLength="36.5" lengthAdjust="spacingAndGlyphs">10:30</text>
<text x="1" y="725.85" font-weight="bold">6</text>
</g>
<path d="M1256 272H1315a2 2 0 0 1 2 2V309a2 2 0 0 1 -2 2H1256Z" fill="#089981"/>
<g font-family='"Liberation Sans", sans-serif' font-size="15.2" fill="#ffffff">
<text x="1266.8" y="287.95" textLength="44" lengthAdjust="spacingAndGlyphs">1936.0</text>
<text x="1266" y="306.0" textLength="37" lengthAdjust="spacingAndGlyphs" fill="#cfeee8">00:44</text>
</g>
<path d="M1256 682H1279a2 2 0 0 1 2 2V701a2 2 0 0 1 -2 2H1256Z" fill="#26a69a"/>
<path d="M1272.5 687.2V697.9H1270.6V689.7L1267.7 691.3L1266.9 689.8L1271 687.2Z" fill="#ffffff"/>
<rect x="1323" y="0" width="1" height="738" fill="#e0e3eb" shape-rendering="crispEdges"/>
<circle cx="20.5" cy="19" r="11.3" fill="#d29b0d"/>
<g fill="#ffffff">
<path d="M18.8 14.1H22.5L24.1 17.4H17.2Z"/>
<path d="M14.1 19.4H18.5L19.9 22.9H12.2Z"/>
<path d="M22.7 19.4H27.3L28.8 22.9H21.1Z"/>
</g>
<g font-family='"Liberation Sans", sans-serif' font-size="19.2" fill="#131722" stroke="#131722" stroke-width="0.3">
<text x="36.9" y="26.4" textLength="40" lengthAdjust="spacingAndGlyphs">Gold</text>
<text x="85.2" y="26.4" textLength="64.7" lengthAdjust="spacingAndGlyphs">Futures</text>
<text x="155.3" y="26.4">·</text>
<text x="166.4" y="26.4">1</text>
<text x="180.5" y="26.4">·</text>
<text x="192.4" y="26.4" textLength="59.9" lengthAdjust="spacingAndGlyphs">COMEX</text>
</g>
<clipPath id="pill"><rect x="272" y="7.8" width="50" height="22" rx="11"/></clipPath>
<g clip-path="url(#pill)"><rect x="272" y="7" width="25" height="24" fill="#daf0ec"/><rect x="297" y="7" width="25" height="24" fill="#ffecd9"/></g>
<circle cx="285.3" cy="19" r="5.2" fill="#089981"/>
<text x="303.5" y="24.8" font-family='"Liberation Sans", sans-serif' font-size="16.2" font-weight="bold" fill="#f57c00" textLength="9" lengthAdjust="spacingAndGlyphs">D</text>
<g font-family='"Liberation Sans", sans-serif' font-size="15.6">
<text x="342.3" y="26.6" fill="#131722" textLength="9.6" lengthAdjust="spacingAndGlyphs">O</text>
<text x="355" y="26.6" fill="#089981" textLength="47.4" lengthAdjust="spacingAndGlyphs">1936.0</text>
<text x="410.4" y="26.6" fill="#131722" textLength="9.1" lengthAdjust="spacingAndGlyphs">H</text>
<text x="422.5" y="26.6" fill="#089981" textLength="47.2" lengthAdjust="spacingAndGlyphs">1936.0</text>
<text x="478.7" y="26.6" fill="#131722" textLength="7.3" lengthAdjust="spacingAndGlyphs">L</text>
<text x="488.2" y="26.6" fill="#089981" textLength="47.5" lengthAdjust="spacingAndGlyphs">1936.0</text>
<text x="543.8" y="26.6" fill="#131722" textLength="8.2" lengthAdjust="spacingAndGlyphs">C</text>
<text x="556" y="26.6" fill="#089981" textLength="46.4" lengthAdjust="spacingAndGlyphs">1936.0</text>
<text x="610.7" y="26.6" fill="#089981" textLength="22.2" lengthAdjust="spacingAndGlyphs">0.0</text>
<text x="639.4" y="26.6" fill="#089981" textLength="52.1" lengthAdjust="spacingAndGlyphs">(0.00%)</text>
</g>
<rect x="8.8" y="39.7" width="66.4" height="28.4" rx="4.5" fill="#ffffff" stroke="#f23645" stroke-width="1.2"/>
<rect x="116.8" y="39.7" width="66.4" height="28.4" rx="4.5" fill="#ffffff" stroke="#2962ff" stroke-width="1.2"/>
<g font-family='"Liberation Sans", sans-serif' font-size="15.6">
<text x="18.5" y="60.1" fill="#f23645" textLength="47.3" lengthAdjust="spacingAndGlyphs">1935.9</text>
<text x="86.2" y="60.1" fill="#131722" textLength="19" lengthAdjust="spacingAndGlyphs">0.2</text>
<text x="126.3" y="60.1" fill="#2962ff" textLength="46" lengthAdjust="spacingAndGlyphs">1936.1</text>
<text x="9.5" y="94.7" fill="#131722" textLength="21.2" lengthAdjust="spacingAndGlyphs">Vol</text>
<text x="49.2" y="94.7" fill="#26a69a">1</text>
</g>
<g stroke="#ffffff" stroke-width="4" stroke-linejoin="round" fill="#ffffff">
<path d="M13 666.9H27.8V684.8H20.2V673.9H13Z"/>
<circle cx="34.5" cy="670.2" r="3.2"/>
<path d="M40.8 666.9H49.8L43.8 684.8H35.3Z"/>
<text x="59.5" y="685.5" font-family='"Liberation Sans", sans-serif' font-size="26.3" font-weight="bold" textLength="150" lengthAdjust="spacingAndGlyphs">TradingView</text>
</g>
<g fill="#131722">
<path d="M13 666.9H27.8V684.8H20.2V673.9H13Z"/>
<circle cx="34.5" cy="670.2" r="3.2"/>
<path d="M40.8 666.9H49.8L43.8 684.8H35.3Z"/>
<text x="59.5" y="685.5" font-family='"Liberation Sans", sans-serif' font-size="26.3" font-weight="bold" textLength="150" lengthAdjust="spacingAndGlyphs">TradingView</text>
</g>
<circle cx="1208.5" cy="686.1" r="12.1" fill="#ffffff" stroke="#9c27b0" stroke-width="1.6"/>
<path d="M4.1 -6.2L-6 1.1H-0.2L-3.7 6.5L6.3 -0.5H0.9Z" transform="translate(1208.5 686.3) scale(1.1)" fill="#9c27b0"/>
<path d="M1281.6 721L1285.8 713.65H1294.2L1298.4 721L1294.2 728.35H1285.8Z" fill="none" stroke="#131722" stroke-width="1.4" stroke-linejoin="round"/>
<circle cx="1290" cy="721" r="2.5" fill="none" stroke="#131722" stroke-width="1.4"/>
</svg>
</body></html>
